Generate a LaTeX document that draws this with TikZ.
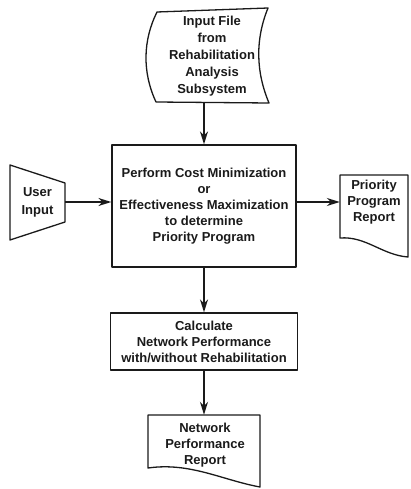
\documentclass[tikz,border=0pt]{standalone}
\usepackage{fontspec}
\setmainfont{Liberation Sans}
\usepackage{tikz}
\usepackage{xcolor}
\usetikzlibrary{
  positioning, arrows.meta, calc,
}
\definecolor{inkLine}{HTML}{1A1A1A}

\begin{document}
\begin{tikzpicture}[x=1pt, y=-1pt,
    lbl/.style={font=\bfseries\fontsize{13}{16}\selectfont, align=center, text=inkLine, inner sep=0pt},
    outline/.style={draw=inkLine, line width=1.3pt, line join=round},
    procbox/.style={lbl, outline},
    flow/.style={draw=inkLine, line width=1.6pt, -{Stealth[length=13pt, width=8pt]}},
  ]
        \useasboundingbox (0,0) rectangle (410,489);
        \node[lbl, font=\bfseries\fontsize{13}{17}\selectfont, minimum width=112pt, minimum height=92pt]
              (infile) at (212,56) {Input File\\from\\Rehabilitation\\Analysis\\Subsystem};
        \draw[outline] (157,12) -- (268,8) .. controls (255,40) and (256,72) .. (269,103)
              -- (156,102) .. controls (142,72) and (143,40) .. (157,12) -- cycle;
        \node[procbox, minimum width=184pt, minimum height=122pt]
              (cost) at (204,206) {Perform Cost Minimization\\or\\Effectiveness Maximization\\to determine\\Priority Program};
        \node[lbl, font=\bfseries\fontsize{13}{18}\selectfont, minimum width=55pt, minimum height=75pt]
              (userin) at (37.5,202) {User\\Input};
        \draw[outline] (10,165) -- (65,183) -- (65,222) -- (10,240) -- cycle;
        \node[lbl, minimum width=68pt, minimum height=70pt]
              (prio) at (374,202) {Priority\\Program\\Report};
        \draw[outline] (340,175) -- (408,175) -- (408,257)
              .. controls (382,255) and (366,236) .. (340,238) -- cycle;
        \node[procbox, minimum width=187pt, minimum height=57pt]
              (calc) at (204,341.5) {Calculate\\Network Performance\\with/without Rehabilitation};
        \node[lbl, minimum width=112pt, minimum height=60pt]
              (netrep) at (205,445) {Network\\Performance\\Report};
        \draw[outline] (148,415) -- (260,415) -- (260,487)
              .. controls (222,480) and (190,462) .. (148,468) -- cycle;
        \draw[flow] (cost.north |- infile.south) -- (cost.north);
        \draw[flow] (userin.east) -- (cost.west |- userin.east);
        \draw[flow] (cost.east |- prio.west) -- (prio.west);
        \draw[flow] (cost.south) -- (calc.north);
        \draw[flow] (calc.south) -- (calc.south |- netrep.north);
      \end{tikzpicture}
\end{document}
